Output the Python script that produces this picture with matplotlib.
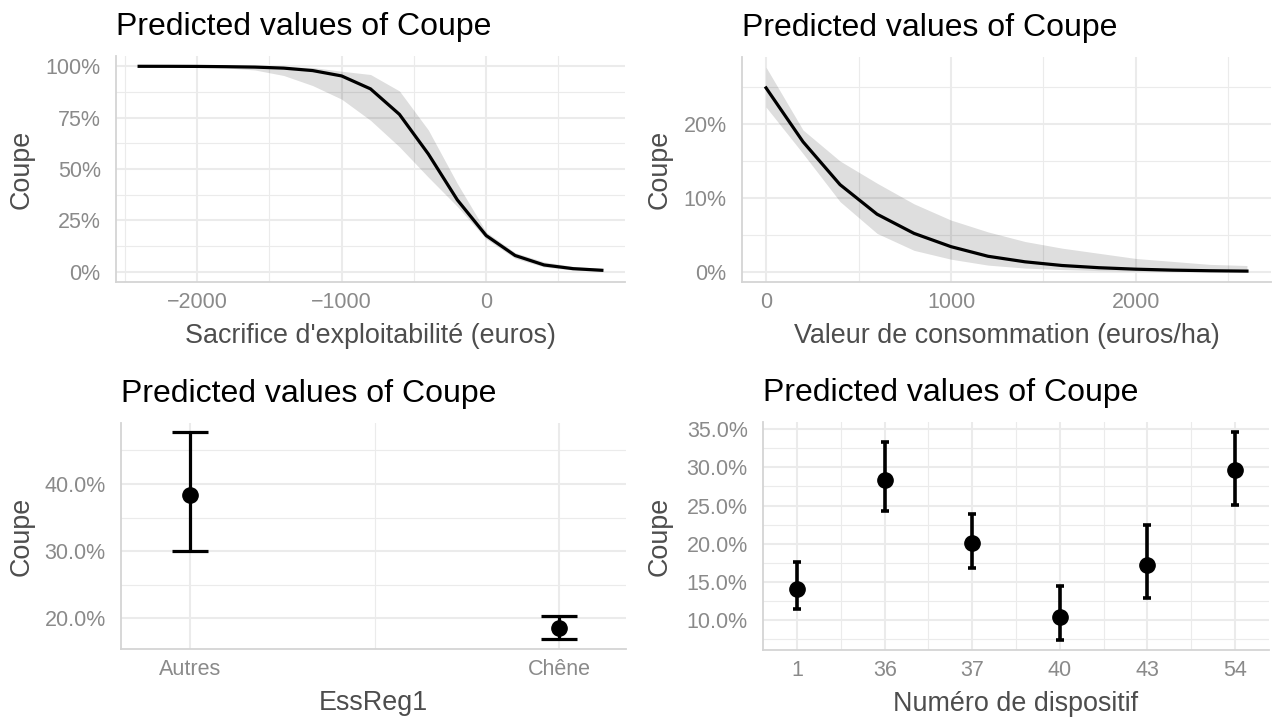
import numpy as np
import matplotlib
matplotlib.use('Agg')
import matplotlib.pyplot as plt
from matplotlib.ticker import MultipleLocator, FixedLocator, PercentFormatter

plt.rcParams['font.family'] = ['Liberation Sans', 'DejaVu Sans']

# Sacrifice d'exploitabilite: predicted probability of cut with 95% CI
sacrifice_x = [-2400, -2200, -2000, -1800, -1600, -1400, -1200, -1000, -800,
               -600, -400, -200, 0, 200, 400, 600, 800]
sacrifice_pred = [0.9998, 0.9997, 0.9993, 0.998, 0.996, 0.991, 0.979, 0.953, 0.890,
                  0.766, 0.573, 0.350, 0.176, 0.079, 0.033, 0.015, 0.007]
sacrifice_low = [0.9995, 0.999, 0.997, 0.992, 0.982, 0.955, 0.906, 0.840, 0.737,
                 0.608, 0.460, 0.318, 0.160, 0.065, 0.023, 0.008, 0.003]
sacrifice_high = [1.0, 1.0, 1.0, 0.9998, 0.9995, 0.998, 0.994, 0.976, 0.960,
                  0.880, 0.690, 0.430, 0.193, 0.093, 0.048, 0.026, 0.016]

# Valeur de consommation
conso_x = [0, 200, 400, 600, 800, 1000, 1200, 1400, 1600, 1800, 2000, 2200, 2400, 2600]
conso_pred = [0.249, 0.176, 0.118, 0.078, 0.052, 0.034, 0.021, 0.0135, 0.0085,
              0.0055, 0.0035, 0.0022, 0.0014, 0.0009]
conso_low = [0.223, 0.160, 0.095, 0.052, 0.029, 0.017, 0.009, 0.005, 0.003,
             0.0015, 0.001, 0.0005, 0.0003, 0.0002]
conso_high = [0.277, 0.192, 0.150, 0.120, 0.092, 0.070, 0.054, 0.041, 0.032,
              0.025, 0.018, 0.014, 0.010, 0.0085]

# EssReg1
ess_labels = ['Autres', 'Chêne']
ess_pred = [0.384, 0.185]
ess_low = [0.300, 0.169]
ess_high = [0.477, 0.2035]

# Numero de dispositif
disp_labels = ['1', '36', '37', '40', '43', '54']
disp_pred = [0.141, 0.284, 0.201, 0.104, 0.172, 0.296]
disp_low = [0.114, 0.243, 0.168, 0.074, 0.128, 0.251]
disp_high = [0.176, 0.334, 0.239, 0.145, 0.225, 0.346]

W, H = 1279, 719
TITLE = 'Predicted values of Coupe'
GRID = '#EBEBEB'
TICK_COL = '#8A8A8A'
LAB_COL = '#4D4D4D'

fig = plt.figure(figsize=(W / 100, H / 100), dpi=100)


def make_axes(left, right, top, bottom):
    ax = fig.add_axes([left / W, 1 - bottom / H, (right - left) / W, (bottom - top) / H])
    for side in ['top', 'right']:
        ax.spines[side].set_visible(False)
    for side in ['left', 'bottom']:
        ax.spines[side].set_color('#D4D4D4')
        ax.spines[side].set_linewidth(1.3)
    ax.grid(True, which='major', color=GRID, linewidth=1.5, zorder=0)
    ax.grid(True, which='minor', color=GRID, linewidth=0.8, zorder=0)
    ax.set_axisbelow(True)
    ax.tick_params(which='both', length=0, labelsize=15.5, labelcolor=TICK_COL)
    ax.tick_params(axis='x', pad=7.5)
    ax.tick_params(axis='y', pad=11)
    fig.text(left / W, 1 - (top - 21) / H, TITLE, fontsize=23, color='black',
             ha='left', va='baseline')
    return ax


def labels(ax, left, right, top, bottom, xlab, ylab_x):
    fig.text((left + right) / 2 / W, 1 - (bottom + 61) / H, xlab, fontsize=19.4,
             color=LAB_COL, ha='center', va='baseline')
    fig.text(ylab_x / W, 1 - (top + bottom) / 2 / H, 'Coupe', fontsize=19.4,
             color=LAB_COL, ha='center', va='center', rotation=90)


# top left
box = (116, 625, 56, 282)
ax1 = make_axes(*box)
ax1.fill_between(sacrifice_x, sacrifice_low, sacrifice_high, color='black', alpha=0.13,
                 linewidth=0, zorder=2)
ax1.plot(sacrifice_x, sacrifice_pred, color='black', linewidth=2.3, zorder=3)
ax1.set_xlim(-2560, 960)
ax1.set_ylim(-0.05, 1.05)
ax1.xaxis.set_major_locator(MultipleLocator(1000))
ax1.xaxis.set_minor_locator(MultipleLocator(500))
ax1.yaxis.set_major_locator(MultipleLocator(0.25))
ax1.yaxis.set_minor_locator(MultipleLocator(0.125))
ax1.yaxis.set_major_formatter(PercentFormatter(xmax=1, decimals=0))
labels(ax1, *box, "Sacrifice d'exploitabilité (euros)", 22)

# top right
box = (742, 1271, 57, 282)
ax2 = make_axes(*box)
ax2.fill_between(conso_x, conso_low, conso_high, color='black', alpha=0.13,
                 linewidth=0, zorder=2)
ax2.plot(conso_x, conso_pred, color='black', linewidth=2.3, zorder=3)
ax2.set_xlim(-130, 2730)
ax2.set_ylim(-0.01385, 0.29085)
ax2.xaxis.set_major_locator(MultipleLocator(1000))
ax2.xaxis.set_minor_locator(MultipleLocator(500))
ax2.yaxis.set_major_locator(MultipleLocator(0.10))
ax2.yaxis.set_minor_locator(MultipleLocator(0.05))
ax2.yaxis.set_major_formatter(PercentFormatter(xmax=1, decimals=0))
labels(ax2, *box, 'Valeur de consommation (euros/ha)', 660)

# bottom left
box = (121, 626, 423, 649)
ax3 = make_axes(*box)
pos3 = np.arange(len(ess_labels))
err3 = [np.array(ess_pred) - np.array(ess_low), np.array(ess_high) - np.array(ess_pred)]
ax3.errorbar(pos3, ess_pred, yerr=err3, fmt='o', color='black', markersize=11,
             elinewidth=2.3, capsize=13, capthick=2.3, zorder=3)
ax3.set_xlim(-0.186, 1.18)
ax3.set_ylim(0.154, 0.491)
ax3.xaxis.set_major_locator(FixedLocator(pos3))
ax3.xaxis.set_minor_locator(FixedLocator([0.5]))
ax3.set_xticklabels(ess_labels)
ax3.yaxis.set_major_locator(MultipleLocator(0.10))
ax3.yaxis.set_minor_locator(MultipleLocator(0.05))
ax3.yaxis.set_major_formatter(PercentFormatter(xmax=1, decimals=1))
labels(ax3, *box, 'EssReg1', 22)

# bottom right
box = (763, 1269, 422, 650)
ax4 = make_axes(*box)
pos4 = np.arange(len(disp_labels))
err4 = [np.array(disp_pred) - np.array(disp_low), np.array(disp_high) - np.array(disp_pred)]
ax4.errorbar(pos4, disp_pred, yerr=err4, fmt='o', color='black', markersize=11,
             elinewidth=2.6, capsize=3, capthick=2.6, zorder=3)
ax4.set_xlim(-0.39, 5.39)
ax4.set_ylim(0.0604, 0.3596)
ax4.xaxis.set_major_locator(FixedLocator(pos4))
ax4.xaxis.set_minor_locator(FixedLocator(pos4[:-1] + 0.5))
ax4.set_xticklabels(disp_labels)
ax4.yaxis.set_major_locator(MultipleLocator(0.05))
ax4.yaxis.set_minor_locator(MultipleLocator(0.025))
ax4.yaxis.set_major_formatter(PercentFormatter(xmax=1, decimals=1))
labels(ax4, *box, 'Numéro de dispositif', 660)

fig.savefig('out.png', dpi=100)
